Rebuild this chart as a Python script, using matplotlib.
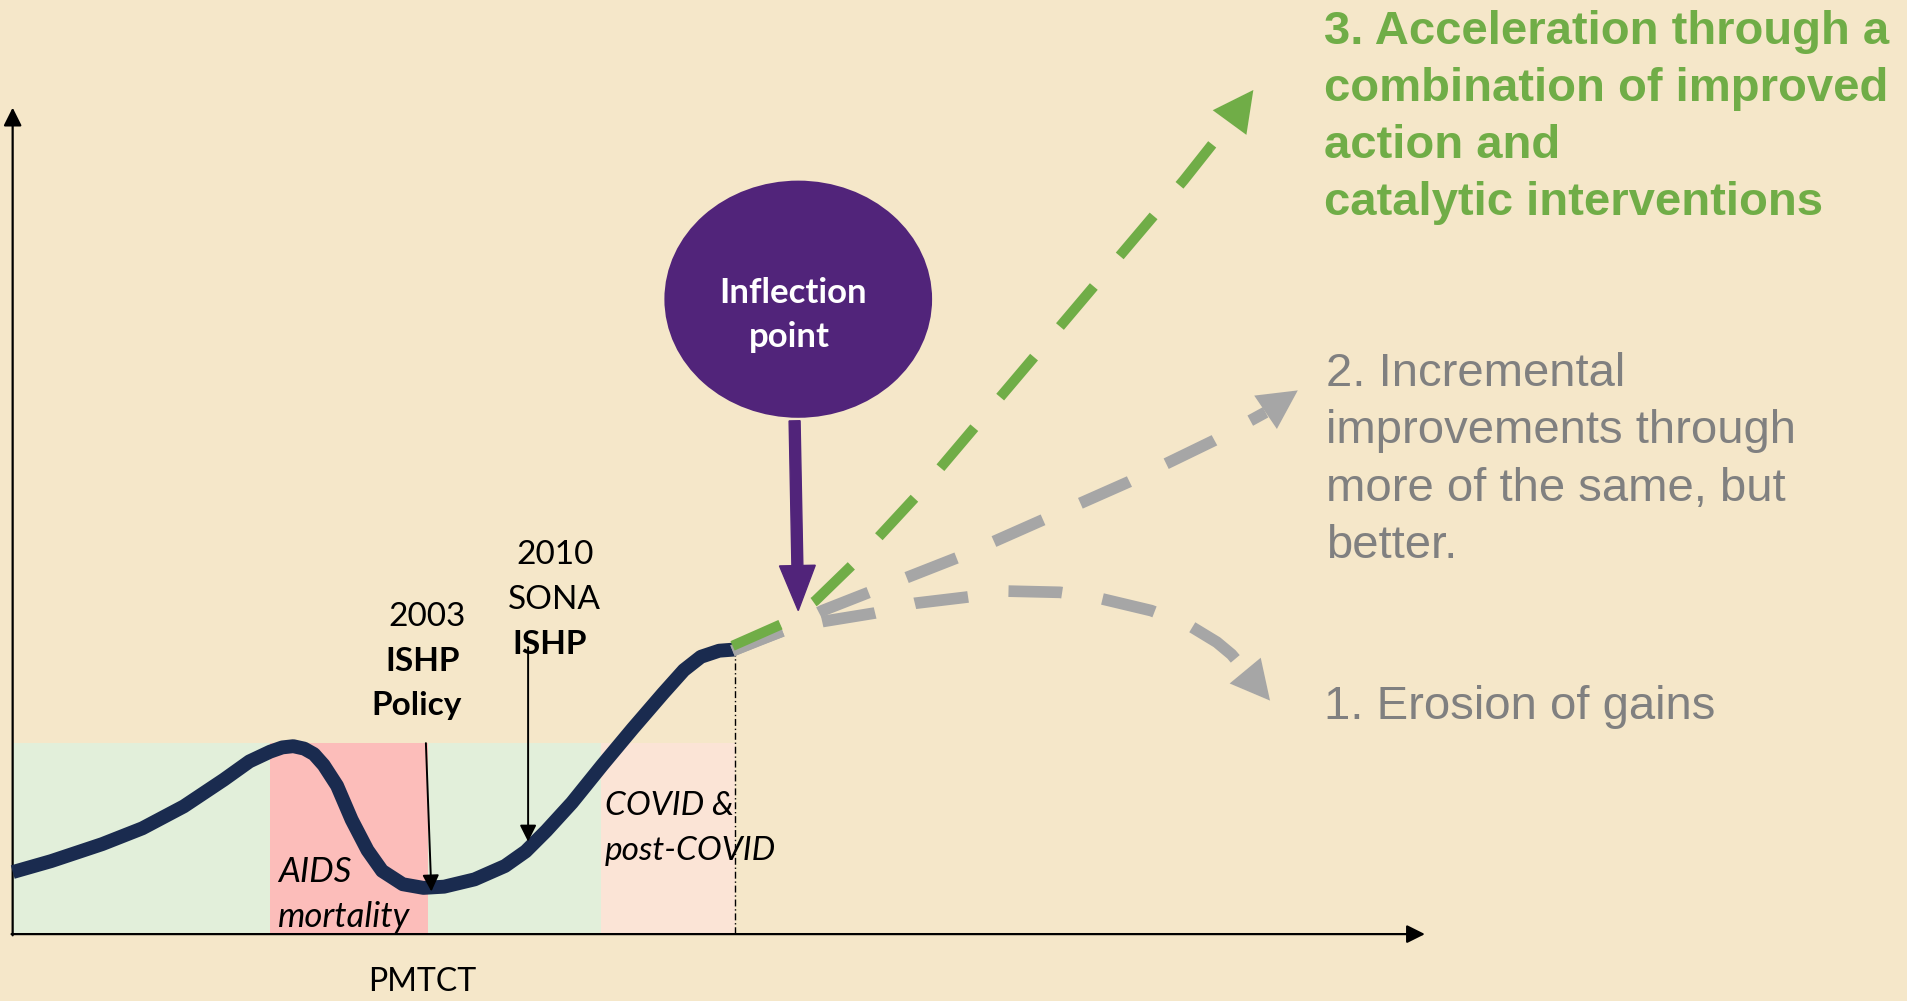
import matplotlib
matplotlib.use("Agg")
import matplotlib.pyplot as plt
from matplotlib.patches import Ellipse, Rectangle

# ---------------- data (in reference pixel units, 1568 x 823 canvas) ----------------
curve_x = [10.5, 42, 84, 117, 151, 184, 205, 222, 232, 241, 250, 258, 266, 277, 289, 302, 314,
           331, 348, 365, 390, 415, 432, 449, 470, 495, 520, 545, 562, 576, 591, 604]
curve_y = [717, 708, 694, 681, 663, 641, 626, 618, 614.5, 613.5, 615.5, 620, 629, 646, 674, 699, 716,
           727, 730, 729, 723, 712, 700, 683, 660, 629, 599, 570, 551, 540, 535, 534]

region_edges = [10, 222, 352, 494, 604]
region_top = 611
axis_y0 = 768
region_colors = ["#E2EFDA", "#FCBDBA", "#E2EFDA", "#FBE4D6"]

green_x = [602, 645, 670, 704, 753, 973, 1011]
green_y = [531, 512, 494, 461, 408, 148, 100]
green_tip = (1030, 74)

grayup_x = [602, 645, 676, 788, 858, 928, 998, 1040]
grayup_y = [535, 518, 502, 458, 427, 396, 362, 339]
grayup_tip = (1066.5, 321)

graylo_x = [602, 624, 645, 676, 719, 752, 794, 828, 871, 904, 946, 977, 1000, 1012, 1023]
graylo_y = [535, 526, 518, 511, 504, 496, 491, 486, 487, 492, 502, 514, 528, 538, 551]
graylo_tip = (1043.7, 576)

event_2003 = ((350, 611), (354.5, 733))
event_2010 = ((434, 532), (434, 692))

scenario3 = ["3. Acceleration through a", "combination of improved", "action and",
             "catalytic interventions"]
scenario2 = ["2. Incremental", "improvements through", "more of the same, but", "better."]
scenario1 = ["1. Erosion of gains"]

# ---------------- styles ----------------
BG = "#F5E7C9"
NAVY = "#1A2B4F"
GREEN = "#70AD47"
GRAY = "#A6A6A6"
GRAYTXT = "#808080"
PURPLE = "#51247A"
CAL = ["Lato", "DejaVu Sans"]
ARIAL = ["Liberation Sans", "DejaVu Sans"]

fig = plt.figure(figsize=(19.08, 10.01), dpi=100, facecolor=BG)
ax = fig.add_axes([0, 0, 1, 1])
ax.set_facecolor(BG)
ax.set_xlim(0, 1568)
ax.set_ylim(823, 0)
ax.axis("off")

# shaded periods
for i, c in enumerate(region_colors):
    ax.add_patch(Rectangle((region_edges[i], region_top), region_edges[i + 1] - region_edges[i],
                           axis_y0 - region_top, facecolor=c, edgecolor="none", zorder=1))

# dash-dot marker at present
ax.plot([curve_x[-1], curve_x[-1]], [curve_y[-1], axis_y0], color="black", lw=1.0,
        linestyle=(0, (5, 2, 1, 2)), zorder=2)

# axes with arrows
ax.annotate("", xy=(10.4, 88.5), xytext=(10.4, axis_y0 + 1),
            arrowprops=dict(arrowstyle="-|>,head_length=11,head_width=5.5", mutation_scale=1,
                            color="black", lw=1.6, shrinkA=0, shrinkB=0), zorder=3)
ax.annotate("", xy=(1171, axis_y0), xytext=(9.5, axis_y0),
            arrowprops=dict(arrowstyle="-|>,head_length=11,head_width=5.5", mutation_scale=1,
                            color="black", lw=1.6, shrinkA=0, shrinkB=0), zorder=3)

# main curve
ax.plot(curve_x, curve_y, color=NAVY, lw=10, solid_capstyle="butt", solid_joinstyle="round",
        zorder=4)

# event arrows
for (x0, y0), (x1, y1) in (event_2003, event_2010):
    ax.annotate("", xy=(x1, y1), xytext=(x0, y0),
                arrowprops=dict(arrowstyle="-|>,head_length=10,head_width=5", mutation_scale=1,
                                color="black", lw=1.4, shrinkA=0, shrinkB=0), zorder=6)

# scenario dashed arrows
def dashed(xs, ys, tip, color, lw, hl, hw, dash):
    ax.plot(xs, ys, color=color, lw=lw, linestyle=(0, dash), dash_capstyle="butt",
            solid_joinstyle="round", zorder=5)
    ax.annotate("", xy=tip, xytext=(xs[-1], ys[-1]),
                arrowprops=dict(arrowstyle=f"-|>,head_length={hl},head_width={hw}",
                                mutation_scale=1, color=color, lw=0.01,
                                shrinkA=0, shrinkB=0), zorder=5)

dashed(graylo_x, graylo_y, graylo_tip, GRAY, 8.4, 28, 14.5, (4.6, 3.5))
dashed(grayup_x, grayup_y, grayup_tip, GRAY, 8.4, 28, 14.5, (4.6, 3.5))
dashed(green_x, green_y, green_tip, GREEN, 7.4, 29, 15, (5.1, 3.9))

# inflection point
ax.add_patch(Ellipse((656, 246), 220, 195, facecolor=PURPLE, edgecolor="none", zorder=6))
ax.text(652, 249, "Inflection", family=CAL, weight="bold", fontsize=25, color="white",
        ha="center", va="baseline", zorder=7)
ax.text(649, 285, "point", family=CAL, weight="bold", fontsize=25, color="white",
        ha="center", va="baseline", zorder=7)
ax.arrow(653, 346, 3, 156, width=9, head_width=29.4, head_length=37,
         length_includes_head=True, color=PURPLE, zorder=6)

# event labels
fs = 24
ax.text(351, 515, "2003", family=CAL, fontsize=fs, ha="center", va="baseline", zorder=7)
ax.text(347, 552, "ISHP", family=CAL, fontsize=fs, weight="bold", ha="center", va="baseline", zorder=7)
ax.text(342, 588, "Policy", family=CAL, fontsize=fs, weight="bold", ha="center", va="baseline", zorder=7)
ax.text(456, 464, "2010", family=CAL, fontsize=fs, ha="center", va="baseline", zorder=7)
ax.text(456, 501, "SONA", family=CAL, fontsize=fs, ha="center", va="baseline", zorder=7)
ax.text(452, 538, "ISHP", family=CAL, fontsize=fs, weight="bold", ha="center", va="baseline", zorder=7)

ax.text(228.5, 725, "AIDS", family=CAL, fontsize=fs + 1, style="italic", ha="left", va="baseline", zorder=7)
ax.text(228.5, 762, "mortality", family=CAL, fontsize=fs + 1, style="italic", ha="left", va="baseline", zorder=7)
ax.text(497, 670, "COVID &", family=CAL, fontsize=fs, style="italic", ha="left", va="baseline", zorder=7)
ax.text(497, 707, "post-COVID", family=CAL, fontsize=fs, style="italic", ha="left", va="baseline", zorder=7)
ax.text(347, 815, "PMTCT", family=CAL, fontsize=fs - 1, ha="center", va="baseline", zorder=7)

# scenario labels
for i, line in enumerate(scenario3):
    ax.text(1088, 36 + 47 * i, line, family=ARIAL, weight="bold", fontsize=34, color=GREEN,
            ha="left", va="baseline", zorder=7)
for i, line in enumerate(scenario2):
    ax.text(1089.5, 317 + 47.3 * i, line, family=ARIAL, fontsize=34, color=GRAYTXT,
            ha="left", va="baseline", zorder=7)
for i, line in enumerate(scenario1):
    ax.text(1088, 591, line, family=ARIAL, fontsize=34, color=GRAYTXT,
            ha="left", va="baseline", zorder=7)

fig.savefig("out.png", dpi=100, facecolor=BG)
